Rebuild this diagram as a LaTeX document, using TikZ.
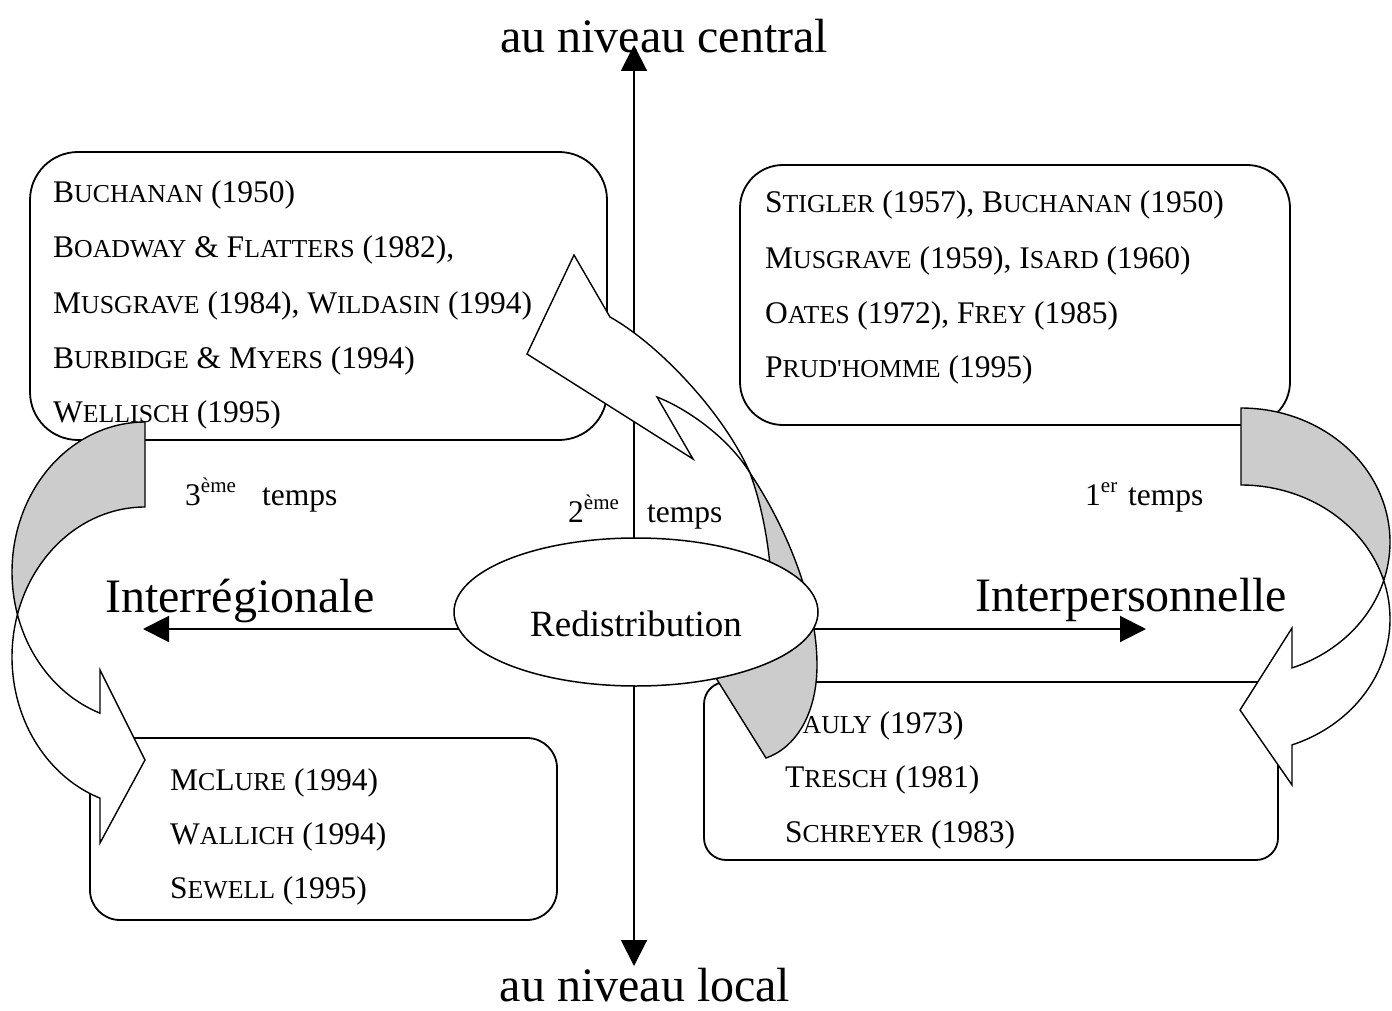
\documentclass[tikz,border=0pt]{standalone}
\usepackage{fontspec}
\setmainfont{Liberation Serif}
\usetikzlibrary{arrows.meta,shapes.geometric}
\pgfdeclarelayer{bg}
\pgfsetlayers{bg,main}
\newcommand\nmfont{\fontsize{31.5}{36}\selectfont}
\newcommand\sca[1]{{\fontsize{25.8}{30}\selectfont #1}}
\newcommand\bgfont{\fontsize{48}{56}\selectfont}
\newcommand\rdfont{\fontsize{37}{42}\selectfont}
\newcommand\supx[1]{\raisebox{13pt}{\fontsize{21}{24}\selectfont #1}}
\begin{document}
\begin{tikzpicture}[x=1pt,y=-1pt,
  box/.style={draw,line width=1.8pt,fill=white,rounded corners=#1,inner sep=0pt},
  nm/.style={anchor=base west,inner sep=0pt,font=\nmfont},
  biglab/.style={inner sep=0pt,font=\bgfont},
  axisline/.style={line width=2pt,-{Triangle[length=26pt,width=26pt]}},
  bandgray/.style={draw,fill=black!20,line width=1.4pt},
  bandwhite/.style={draw,fill=white,line width=1.4pt}]
\useasboundingbox (0,0) rectangle (1392,1011);

% boxes
\node[box=48,minimum width=577pt,minimum height=288pt] (tl) at (318.5,296) {};
\node[box=43,minimum width=550pt,minimum height=260pt] (tr) at (1015,295) {};
\node[box=30,minimum width=467pt,minimum height=182pt] (bl) at (323.5,829) {};
\node[box=22,minimum width=574pt,minimum height=178pt] (br) at (991,771) {};

% box texts
\node[nm] (tl1) at (53,203) {B\sca{UCHANAN} (1950)};
\node[nm] (tl2) at (53,258) {B\sca{OADWAY} \& F\sca{LATTERS} (1982),};
\node[nm] (tl3) at (53,313) {M\sca{USGRAVE} (1984), W\sca{ILDASIN} (1994)};
\node[nm] (tl4) at (53,368) {B\sca{URBIDGE} \& M\sca{YERS} (1994)};
\node[nm] (tl5) at (53,422) {W\sca{ELLISCH} (1995)};

\node[nm] (tr1) at (765,213) {S\sca{TIGLER} (1957), B\sca{UCHANAN} (1950)};
\node[nm] (tr2) at (765,268) {M\sca{USGRAVE} (1959), I\sca{SARD} (1960)};
\node[nm] (tr3) at (765,323) {O\sca{ATES} (1972), F\sca{REY} (1985)};
\node[nm] (tr4) at (765,377) {P\sca{RUD\textquotesingle HOMME} (1995)};

\node[nm] (bl1) at (170,790) {M\sca{C}L\sca{URE} (1994)};
\node[nm] (bl2) at (170,844) {W\sca{ALLICH} (1994)};
\node[nm] (bl3) at (170,898) {S\sca{EWELL} (1995)};

\node[nm] (br1) at (785,733) {P\sca{AULY} (1973)};
\node[nm] (br2) at (785,787) {T\sca{RESCH} (1981)};
\node[nm] (br3) at (785,842) {S\sca{CHREYER} (1983)};

% left curved arrow (3eme temps)
\draw[bandgray] plot[domain=270:163.54,samples=60] ({145+133*cos(\x)},{572+150*sin(\x)})
  -- plot[domain=196.46:270,samples=60] ({145+133*cos(\x)},{657+150*sin(\x)}) -- cycle;
\draw[bandwhite] plot[domain=163.54:109.78,samples=50] ({145+133*cos(\x)},{572+150*sin(\x)})
  -- (100,670) -- (145,760) -- (100,843)
  -- plot[domain=109.78:196.46,samples=50] ({145+133*cos(\x)},{657+150*sin(\x)}) -- cycle;

% right curved arrow (1er temps)
\draw[bandgray] plot[domain=-90:16.70,samples=60] ({1241+149*cos(\x)},{542+134*sin(\x)})
  -- plot[domain=-16.70:-90,samples=60] ({1241+149*cos(\x)},{619+134*sin(\x)}) -- cycle;
\draw[bandwhite] plot[domain=16.70:70,samples=50] ({1241+149*cos(\x)},{542+134*sin(\x)})
  -- (1292,628) -- (1240,710) -- (1292,785)
  -- plot[domain=70:-16.70,samples=50] ({1241+149*cos(\x)},{619+134*sin(\x)}) -- cycle;

% middle curved arrow (2eme temps)
\draw[bandgray] (750,473) .. controls (785,525) and (817,600) .. (817,665)
  .. controls (817,715) and (795,748) .. (766,758) -- (696,646) -- (772,600)
  .. controls (771,545) and (760,500) .. (750,473) -- cycle;
\draw[bandwhite] (610,317) -- (574,255) -- (527,354) -- (693,459) -- (657,397)
  .. controls (690,410) and (730,440) .. (750,473)
  .. controls (725,415) and (660,345) .. (610,317) -- cycle;

% central ellipse
\node[ellipse,draw,fill=white,line width=1.5pt,minimum width=364pt,minimum height=148pt,inner sep=0pt] (red) at (636,612) {};
\node[anchor=base,inner sep=0pt,font=\rdfont] (redt) at (636,636) {Redistribution};

% labels
\node[biglab,anchor=base west] (lint) at (105,612) {Interrégionale};
\node[biglab,anchor=base west] (lpers) at (975,611) {Interpersonnelle};
\node[biglab,anchor=base] (lcen) at (664,53) {au niveau central};
\node[biglab,anchor=base] (lloc) at (645,1001) {au niveau local};

\node[nm] (t3a) at (185,505) {3\supx{ème}};
\node[nm] (t3b) at (262,505) {temps};
\node[nm] (t2a) at (568,522) {2\supx{ème}};
\node[nm] (t2b) at (647,522) {temps};
\node[nm] (t1a) at (1085,505) {1\supx{er}};
\node[nm] (t1b) at (1128,505) {temps};

% axes
\coordinate (ctop) at (634,45);
\coordinate (cbot) at (634,966);
\coordinate (cleft) at (143,629);
\coordinate (cright) at (1146,629);
\begin{pgfonlayer}{bg}
\draw[axisline] (red.center -| ctop) -- (ctop);
\draw[axisline] (red.center -| cbot) -- (cbot);
\draw[axisline] (red.center |- cleft) -- (cleft);
\draw[axisline] (red.center |- cright) -- (cright);
\end{pgfonlayer}
\end{tikzpicture}
\end{document}
